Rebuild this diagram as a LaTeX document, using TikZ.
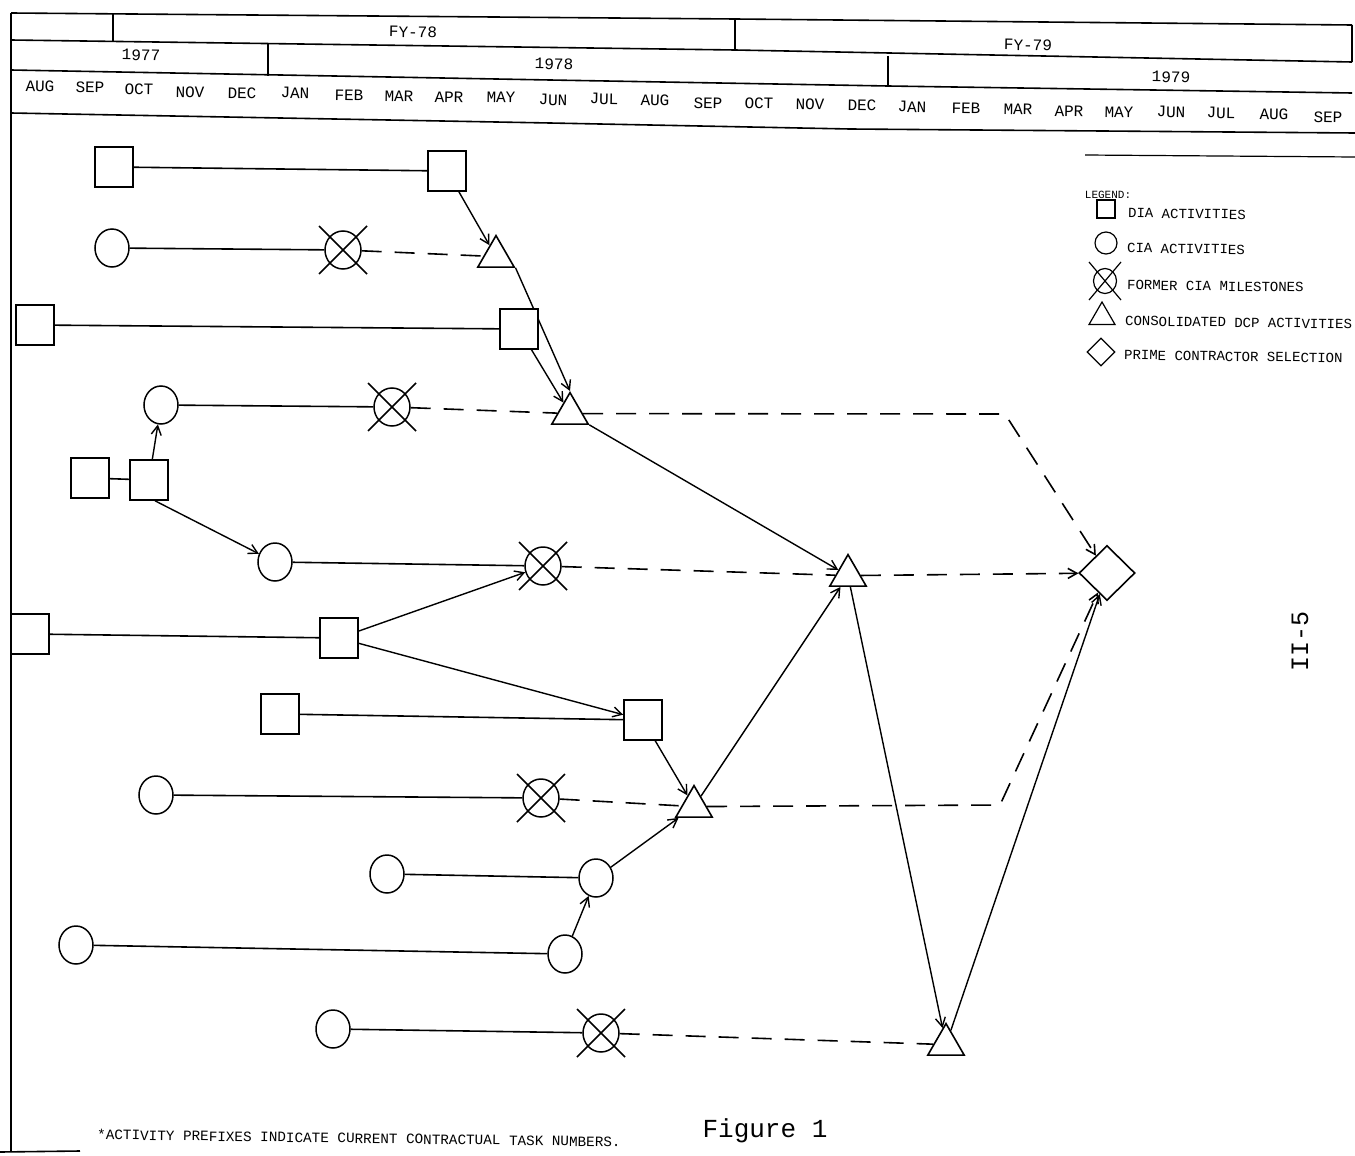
\documentclass[tikz,border=0pt]{standalone}
\usepackage{fontspec}
\setmonofont{Liberation Mono}
\usetikzlibrary{shapes.geometric,arrows.meta,backgrounds}
\begin{document}
\begin{tikzpicture}[x=1pt,y=-1pt,
  box/.style={draw, fill=white, minimum width=38pt, minimum height=40pt, inner sep=0pt, line width=1.6pt},
  cia/.style={draw, fill=white, ellipse, minimum width=34pt, minimum height=38pt, inner sep=0pt, line width=1.5pt},
  tri/.style={draw, fill=white, regular polygon, regular polygon sides=3, minimum size=42pt, inner sep=0pt, line width=1.6pt},
  dia/.style={draw, fill=white, diamond, minimum width=56pt, minimum height=55pt, inner sep=0pt, line width=1.6pt},
  link/.style={line width=1.6pt},
  arr/.style={line width=1.4pt, -{Straight Barb[length=9pt,width=10pt]}},
  dsh/.style={line width=1.6pt, dash pattern=on 20pt off 13pt},
  dsharr/.style={dsh, -{Straight Barb[length=9pt,width=10pt]}},
  rule/.style={line width=1.6pt},
  hdr/.style={font=\fontsize{16}{16}\selectfont\ttfamily, inner sep=0pt, rotate=-0.9},
  lgd/.style={font=\fontsize{14}{14}\selectfont\ttfamily, anchor=west, inner sep=0pt, rotate=-0.8},
  xmark/.style={line width=1.5pt}
]
\useasboundingbox (0,0) rectangle (1355,1156);

% ---- frame and header ----
\draw[rule] (11,13) -- (11,1152);
\draw[rule] (0,1152) -- (80,1151);
\draw[rule] (11,13) -- (735,19) -- (1352,25);
\draw[rule] (11,40) -- (735,50) -- (1352,62);
\draw[rule] (11,70) -- (550,80) -- (888,86) -- (1352,93);
\draw[rule] (11,113) -- (550,123) -- (850,129) -- (1355,133);
\draw[rule] (113,14) -- (113,41);
\draw[rule] (735,19) -- (735,50);
\draw[rule] (1352,25) -- (1352,62);
\draw[rule] (268,44) -- (268,76);
\draw[rule] (888,56) -- (888,86);
\draw[line width=1.2pt] (1085,155) -- (1355,157);

\node[hdr] (fy78) at (413,32) {FY-78};
\node[hdr] (fy79) at (1028,45) {FY-79};
\node[hdr] (y77) at (141,55) {1977};
\node[hdr] (y78) at (554,64) {1978};
\node[hdr] (y79) at (1171,77) {1979};

\node[hdr] (m1) at (40,86) {AUG};
\node[hdr] (m2) at (90,87) {SEP};
\node[hdr] (m3) at (139,89) {OCT};
\node[hdr] (m4) at (190,92) {NOV};
\node[hdr] (m5) at (242,93) {DEC};
\node[hdr] (m6) at (295,93) {JAN};
\node[hdr] (m7) at (349,95) {FEB};
\node[hdr] (m8) at (399,96) {MAR};
\node[hdr] (m9) at (449,97) {APR};
\node[hdr] (m10) at (501,97) {MAY};
\node[hdr] (m11) at (553,100) {JUN};
\node[hdr] (m12) at (604,99) {JUL};
\node[hdr] (m13) at (655,100) {AUG};
\node[hdr] (m14) at (708,103) {SEP};
\node[hdr] (m15) at (759,103) {OCT};
\node[hdr] (m16) at (810,104) {NOV};
\node[hdr] (m17) at (862,105) {DEC};
\node[hdr] (m18) at (912,107) {JAN};
\node[hdr] (m19) at (966,108) {FEB};
\node[hdr] (m20) at (1018,109) {MAR};
\node[hdr] (m21) at (1069,111) {APR};
\node[hdr] (m22) at (1119,112) {MAY};
\node[hdr] (m23) at (1171,112) {JUN};
\node[hdr] (m24) at (1221,113) {JUL};
\node[hdr] (m25) at (1274,114) {AUG};
\node[hdr] (m26) at (1328,117) {SEP};

% ---- nodes ----
\node[box] (S1) at (114,167) {};
\node[box] (S2) at (447,171) {};
\node[box] (S3) at (35,325) {};
\node[box] (S4) at (519,329) {};
\node[box] (S5) at (90,478) {};
\node[box] (S6) at (149,480) {};
\node[box] (S7) at (30,634) {};
\node[box] (S8) at (339,638) {};
\node[box] (S9) at (280,714) {};
\node[box] (S10) at (643,720) {};

\node[cia] (C1) at (112,248) {};
\node[cia] (C2) at (161,405) {};
\node[cia] (C3) at (275,562) {};
\node[cia] (C4) at (156,795) {};
\node[cia] (C5) at (387,874) {};
\node[cia] (C6) at (596,878) {};
\node[cia] (C7) at (76,945) {};
\node[cia] (C8) at (565,954) {};
\node[cia] (C9) at (333,1029) {};

\node[cia, minimum width=36pt] (X1) at (343,250) {};
\node[cia, minimum width=36pt] (X2) at (392,407) {};
\node[cia, minimum width=36pt] (X3) at (543,566) {};
\node[cia, minimum width=36pt] (X4) at (541,798) {};
\node[cia, minimum width=36pt] (X5) at (601,1033) {};

\node[tri] (T1) at (496,256.6) {};
\node[tri] (T2) at (570,413.6) {};
\node[tri] (T3) at (848,575.6) {};
\node[tri] (T4) at (694,806.6) {};
\node[tri] (T5) at (946,1044.6) {};

\node[dia] (D) at (1107,573) {};

\coordinate (k1) at (1005,414);
\coordinate (k2) at (1000,805);

% ---- X marks on former milestones ----
\foreach \n in {X1,X2,X3,X4,X5}{
  \draw[xmark] (\n) ++(-24,-24) -- ++(48,48) (\n) ++(24,-24) -- ++(-48,48);
}

% ---- connectors (behind nodes) ----
\begin{pgfonlayer}{background}
\fill[white] (0,0) rectangle (1355,1156);
\draw[link] (S1) -- (S2);
\draw[link] (C1) -- (X1);
\draw[link] (S3) -- (S4);
\draw[link] (C2) -- (X2);
\draw[link] (S5) -- (S6);
\draw[link] (C3) -- (X3);
\draw[link] (S7) -- (S8);
\draw[link] (S9) -- (S10);
\draw[link] (C4) -- (X4);
\draw[link] (C5) -- (C6);
\draw[link] (C7) -- (C8);
\draw[link] (C9) -- (X5);

\draw[dsh] (X1) -- (T1);
\draw[dsh] (X2) -- (T2);
\draw[dsh] (X3) -- (T3);
\draw[dsh] (X4) -- (T4);
\draw[dsh] (X5) -- (T5);
\draw[dsharr] (T2) -- (k1) -- (D);
\draw[dsharr] (T3) -- (D);
\draw[dsharr] (T4) -- (k2) -- (D);

\draw[arr] (S2) -- (T1);
\draw[arr] (T1.corner 3) -- (T2.north);
\draw[arr] (S4) -- (T2);
\draw[arr] (S6) -- (C2);
\draw[arr] ([xshift=6pt]S6.south) -- (C3);
\draw[arr] (S8) -- (X3);
\draw[arr] (S8) -- (S10);
\draw[arr] (S10) -- (T4);
\draw[arr] (C6) -- (T4);
\draw[arr] (C8) -- (C6);
\draw[arr] (T4) -- (T3);
\draw[arr] (T2) -- (T3);
\draw[arr] (T3) -- (T5);
\draw[arr] (T5) -- (D);
\end{pgfonlayer}

% ---- legend ----
\node[font=\fontsize{11}{11}\selectfont\ttfamily, inner sep=0pt] (lg) at (1108,195) {LEGEND:};
\node[draw, line width=1.2pt, minimum width=18pt, minimum height=18pt, inner sep=0pt] (L1) at (1106,209) {};
\node[lgd] (L1t) at (1128,213) {DIA ACTIVITIES};
\node[draw, line width=1.2pt, circle, minimum size=22pt, inner sep=0pt] (L2) at (1106,243) {};
\node[lgd] (L2t) at (1127,248) {CIA ACTIVITIES};
\node[draw, line width=1.2pt, ellipse, minimum width=23pt, minimum height=25pt, inner sep=0pt] (L3) at (1105,281) {};
\draw[line width=1.2pt] (L3) ++(-16,-19) -- ++(32,38) (L3) ++(16,-19) -- ++(-32,38);
\node[lgd] (L3t) at (1127,285) {FORMER CIA MILESTONES};
\node[draw, line width=1.2pt, regular polygon, regular polygon sides=3, minimum size=30pt, inner sep=0pt] (L4) at (1102,317) {};
\node[lgd] (L4t) at (1125,321) {CONSOLIDATED DCP ACTIVITIES};
\node[draw, line width=1.2pt, diamond, minimum width=28pt, minimum height=28pt, inner sep=0pt] (L5) at (1101,352) {};
\node[lgd] (L5t) at (1124,355) {PRIME CONTRACTOR SELECTION};

% ---- captions ----
\node[font=\fontsize{14.3}{15}\selectfont\ttfamily, inner sep=0pt, rotate=-0.8] (fn) at (359,1138) {*ACTIVITY PREFIXES INDICATE CURRENT CONTRACTUAL TASK NUMBERS.};
\node[font=\fontsize{26}{26}\selectfont\ttfamily, inner sep=0pt] (fig) at (765,1131) {Figure 1};
\node[font=\fontsize{25}{25}\selectfont\ttfamily, inner sep=0pt, rotate=90] (pg) at (1300,641) {II-5};
\end{tikzpicture}
\end{document}
